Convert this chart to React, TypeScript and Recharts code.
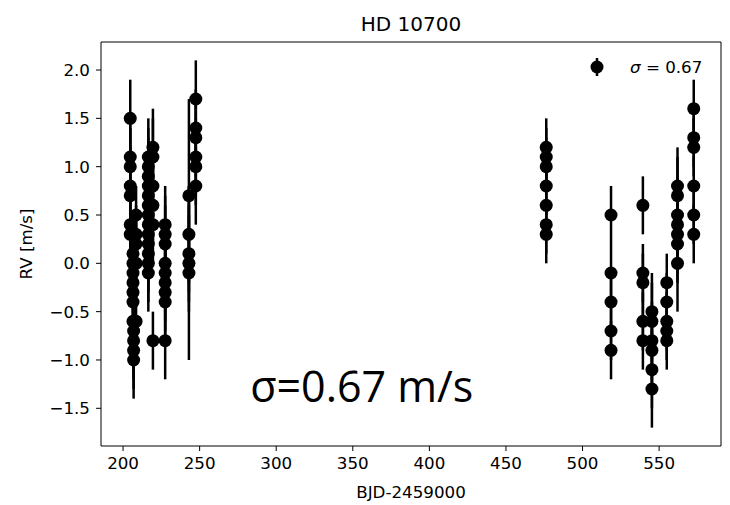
import React from 'react'
import { ScatterChart, Scatter, XAxis, YAxis, ErrorBar, ReferenceArea, ReferenceDot } from 'recharts'

// first observing season (BJD - 2459000)
const season1Bjd = [
  204.7, 204.7, 204.7, 204.7, 204.7, 204.7, 204.7,
  206.5, 206.5, 206.5, 206.5, 206.5, 206.5, 206.5,
  206.9, 206.9, 206.9, 206.9,
  208.5, 208.5, 208.5, 208.5, 208.5,
  216.5, 216.5, 216.5, 216.5, 216.5, 216.5, 216.5, 216.5, 216.5, 216.5, 216.5, 216.5, 216.5,
  219.5, 219.5, 219.5, 219.5, 219.5, 219.5,
  227.5, 227.5, 227.5, 227.5, 227.5, 227.5, 227.5, 227.5, 227.5,
  243.0, 243.0, 243.0, 243.0, 243.0,
  247.5, 247.5, 247.5, 247.5, 247.5, 247.5,
]
const season1Rv = [
  1.5, 1.1, 1.0, 0.8, 0.7, 0.4, 0.3,
  0.1, 0.0, -0.1, -0.2, -0.3, -0.4, -0.6,
  -0.7, -0.8, -0.9, -1.0,
  0.5, 0.3, 0.2, 0.0, -0.6,
  1.1, 1.0, 0.9, 0.8, 0.7, 0.6, 0.5, 0.4, 0.3, 0.2, 0.1, 0.0, -0.1,
  1.2, 1.1, 0.8, 0.6, 0.4, -0.8,
  0.4, 0.3, 0.2, 0.0, -0.1, -0.2, -0.3, -0.4, -0.8,
  0.7, 0.3, 0.1, 0.0, -0.1,
  1.7, 1.4, 1.3, 1.1, 1.0, 0.8,
]
const season1Err = [
  0.4, 0.4, 0.4, 0.4, 0.4, 0.4, 0.4,
  0.4, 0.4, 0.4, 0.4, 0.4, 0.4, 0.4,
  0.4, 0.4, 0.4, 0.4,
  0.3, 0.3, 0.3, 0.3, 0.3,
  0.4, 0.4, 0.4, 0.4, 0.4, 0.4, 0.4, 0.4, 0.4, 0.4, 0.4, 0.4, 0.4,
  0.4, 0.4, 0.4, 0.4, 0.4, 0.3,
  0.4, 0.4, 0.4, 0.4, 0.4, 0.4, 0.4, 0.4, 0.4,
  1.0, 0.5, 0.5, 0.5, 0.9,
  0.4, 0.4, 0.4, 0.4, 0.4, 0.4,
]

// second observing season
const season2Bjd = [
  476.3, 476.3, 476.3, 476.3, 476.3, 476.3, 476.3,
  518.6, 518.6, 518.6, 518.6, 518.6,
  539.4, 539.4, 539.4, 539.4, 539.4,
  545.3, 545.3, 545.3, 545.3, 545.3, 545.3,
  555.0, 555.0, 555.0, 555.0, 555.0,
  562.0, 562.0, 562.0, 562.0, 562.0, 562.0, 562.0,
  572.6, 572.6, 572.6, 572.6, 572.6, 572.6,
]
const season2Rv = [
  1.2, 1.1, 1.0, 0.8, 0.6, 0.4, 0.3,
  0.5, -0.1, -0.4, -0.7, -0.9,
  0.6, -0.1, -0.2, -0.6, -0.8,
  -0.5, -0.6, -0.8, -0.9, -1.1, -1.3,
  -0.2, -0.4, -0.6, -0.7, -0.8,
  0.8, 0.7, 0.5, 0.4, 0.3, 0.2, 0.0,
  1.6, 1.3, 1.2, 0.8, 0.5, 0.3,
]
const season2Err = [
  0.3, 0.3, 0.3, 0.3, 0.3, 0.3, 0.3,
  0.3, 0.3, 0.3, 0.3, 0.3,
  0.3, 0.3, 0.3, 0.3, 0.3,
  0.4, 0.4, 0.4, 0.4, 0.4, 0.4,
  0.3, 0.3, 0.3, 0.3, 0.3,
  0.4, 0.4, 0.4, 0.4, 0.4, 0.4, 0.5,
  0.3, 0.3, 0.3, 0.3, 0.3, 0.3,
]

const xTicks = [200, 250, 300, 350, 400, 450, 500, 550]
const yTicks = [-1.5, -1.0, -0.5, 0.0, 0.5, 1.0, 1.5, 2.0]
const xDomain = [185.6, 590.4]
const yDomain = [-1.89, 2.29]

const build = (bjd: number[], rv: number[], err: number[]) =>
  bjd.map((x, i) => ({ bjd: x, rv: rv[i], err: err[i] }))

const data = [...build(season1Bjd, season1Rv, season1Err), ...build(season2Bjd, season2Rv, season2Err)]

const FONT = 'DejaVu Sans, sans-serif'
const tickStyle = { fill: '#000', fontSize: 16.7, fontFamily: FONT }

const dot = (p: any) => <circle cx={p.cx} cy={p.cy} r={6.5} fill="#000" />

const fmtY = (v: number) => (v < 0 ? '\u2212' + Math.abs(v).toFixed(1) : v.toFixed(1))

const BigLabel = (props: any) => {
  const { viewBox } = props
  return (
    <text x={viewBox.x} y={viewBox.y} fontSize={43} fontFamily="Open Sans, sans-serif" fill="#000">
      σ=0.67 m/s
    </text>
  )
}

export default function App() {
  return (
    <div style={{ position: 'absolute', left: 0, top: 0, background: '#fff' }}>
      <ScatterChart width={730} height={505} margin={{ top: 42, right: 9, bottom: 0, left: 0 }}>
        <XAxis
          type="number"
          dataKey="bjd"
          domain={xDomain}
          ticks={xTicks}
          allowDataOverflow
          height={59}
          axisLine={false}
          tickLine={{ stroke: '#000' }}
          tickSize={5}
          tickMargin={6}
          tick={tickStyle}
        />
        <YAxis
          type="number"
          dataKey="rv"
          domain={yDomain}
          ticks={yTicks}
          allowDataOverflow
          width={101}
          axisLine={false}
          tickLine={{ stroke: '#000' }}
          tickSize={5}
          tickMargin={6}
          tick={tickStyle}
          tickFormatter={fmtY}
        />
        <ReferenceArea
          x1={xDomain[0]}
          x2={xDomain[1]}
          y1={yDomain[0]}
          y2={yDomain[1]}
          fill="none"
          fillOpacity={0}
          stroke="#000"
          strokeWidth={1}
          ifOverflow="visible"
        />
        <Scatter data={data} shape={dot} isAnimationActive={false}>
          <ErrorBar dataKey="err" direction="y" width={0} stroke="#000" strokeWidth={2.5} />
        </Scatter>
        <ReferenceDot x={283} y={-1.43} r={0} label={<BigLabel />} />
        <text x={411} y={31} textAnchor="middle" fontSize={20} fontFamily={FONT} fill="#000">
          HD 10700
        </text>
        <text x={411} y={498} textAnchor="middle" fontSize={16.7} fontFamily={FONT} fill="#000">
          BJD-2459000
        </text>
        <text
          x={32}
          y={244}
          textAnchor="middle"
          fontSize={16.7}
          fontFamily={FONT}
          fill="#000"
          transform="rotate(-90 32 244)"
        >
          RV [m/s]
        </text>
        <line x1={597} y1={58} x2={597} y2={76} stroke="#000" strokeWidth={2.5} />
        <circle cx={597} cy={67} r={6.5} fill="#000" />
        <text x={630} y={73} fontSize={16.7} fontFamily={FONT} fill="#000">
          <tspan fontStyle="italic">σ</tspan> = 0.67
        </text>
      </ScatterChart>
    </div>
  )
}
